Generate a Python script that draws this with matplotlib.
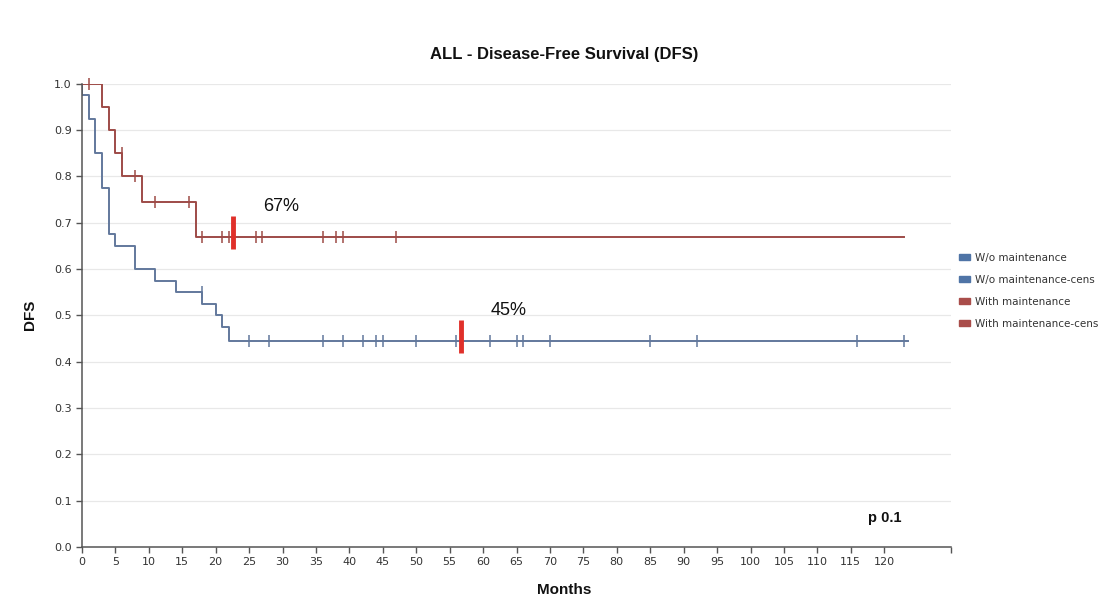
import numpy as np
import matplotlib
matplotlib.use('Agg')
import matplotlib.pyplot as plt
from matplotlib.patches import Patch

# Kaplan-Meier steps (months, DFS)
wo_times = [0, 0, 1, 2, 3, 4, 5, 8, 11, 14, 18, 20, 21, 22, 123.5]
wo_surv = [1.0, 0.975, 0.925, 0.85, 0.775, 0.675, 0.65, 0.60, 0.575, 0.55, 0.525, 0.50, 0.475, 0.445, 0.445]
wo_cens = [18, 25, 28, 36, 39, 42, 44, 45, 50, 56, 61, 65, 66, 70, 85, 92, 116, 123]

with_times = [0, 3, 4, 5, 6, 9, 17, 123]
with_surv = [1.0, 0.95, 0.90, 0.85, 0.80, 0.745, 0.67, 0.67]
with_cens = [1, 6, 8, 11, 16, 18, 21, 22, 26, 27, 36, 38, 39, 47]

# median follow-up markers and labels
marks = [(22.6, 0.67, '67%'), (56.7, 0.445, '45%')]

x_ticks = list(range(0, 121, 5))
y_ticks = [round(v * 0.1, 1) for v in range(11)]
legend_labels = ['W/o maintenance', 'W/o maintenance-cens', 'With maintenance', 'With maintenance-cens']

color_blue = '#62789c'
color_blue_leg = '#4f74a6'
color_red = '#9e4b47'
color_red_leg = '#a94d4a'
color_bar = '#e0302a'
bold_font = 'Liberation Sans'


def cens_y(times, surv, cens):
    times = np.array(times)
    idx = np.searchsorted(times, cens, side='left') - 1
    return np.array(surv)[idx]


fig = plt.figure(figsize=(11.15, 6.16), dpi=100)
ax = fig.add_axes([0.0735, 0.112, 0.7795, 0.752])

ax.step(wo_times, wo_surv, where='post', color=color_blue, lw=1.4)
ax.plot(wo_cens, cens_y(wo_times, wo_surv, wo_cens), ls='none', marker='|',
        ms=9, mew=1.1, color=color_blue)
ax.step(with_times, with_surv, where='post', color=color_red, lw=1.4)
ax.plot(with_cens, cens_y(with_times, with_surv, with_cens), ls='none', marker='|',
        ms=9, mew=1.1, color=color_red, clip_on=False)

for xm, ym, lab in marks:
    ax.vlines(xm, ym - 0.027, ym + 0.045, color=color_bar, lw=3.5, zorder=5)
    ax.text(xm + 4.5, ym + 0.065, lab, fontsize=13, family='Liberation Sans',
            color='#111111', va='center')

ax.text(117.6, 0.063, 'p 0.1', fontsize=10.5, fontweight='bold', family=bold_font,
        va='center', color='#111111')

ax.set_xlim(0, 130)
ax.set_ylim(0, 1.0)
ax.set_xticks(x_ticks + [130])
ax.set_xticklabels([str(v) for v in x_ticks] + [''])
ax.set_yticks(y_ticks)
ax.set_yticklabels([f'{v:.1f}' for v in y_ticks])
ax.tick_params(axis='both', labelsize=8, colors='#555555', labelcolor='#333333',
               length=4, width=1, direction='out')
ax.grid(axis='y', color='#e8e8e8', lw=0.9)
ax.set_axisbelow(True)
for s in ['top', 'right']:
    ax.spines[s].set_visible(False)
for s in ['left', 'bottom']:
    ax.spines[s].set_color('#555555')
    ax.spines[s].set_linewidth(1.1)

fig.text(0.506, 0.911, 'ALL - Disease-Free Survival (DFS)', ha='center', va='center',
         fontsize=12, fontweight='bold', family=bold_font, color='#111111')
fig.text(0.506, 0.042, 'Months', ha='center', va='center', fontsize=11,
         fontweight='bold', family=bold_font, color='#111111')
fig.text(0.027, 0.489, 'DFS', ha='center', va='center', rotation=90, fontsize=11,
         fontweight='bold', family=bold_font, color='#111111')

handles = [Patch(color=c) for c in [color_blue_leg, color_blue_leg, color_red_leg, color_red_leg]]
fig.legend(handles, legend_labels, loc='upper left', bbox_to_anchor=(0.852, 0.605),
           frameon=False, fontsize=7.5, handlelength=1.0, handleheight=0.45,
           handletextpad=0.5, labelspacing=1.15, labelcolor='#333333')

fig.savefig('out.png', dpi=100, facecolor='white')
